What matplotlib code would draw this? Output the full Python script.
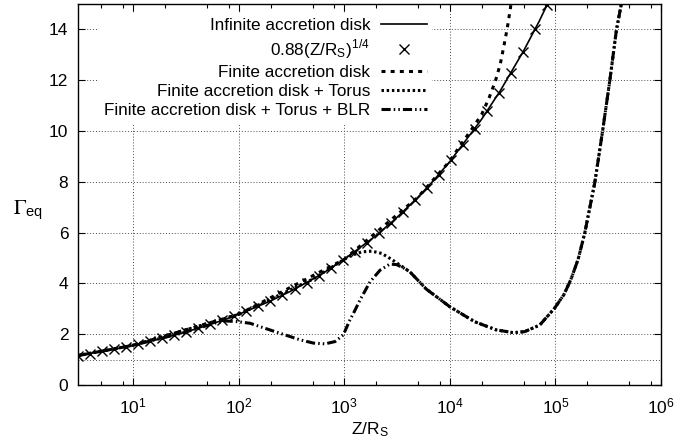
import matplotlib
matplotlib.use("Agg")
import matplotlib.pyplot as plt
from matplotlib.ticker import LogLocator, NullFormatter

plt.rcParams['font.family'] = ['Liberation Sans', 'DejaVu Sans']
plt.rcParams['mathtext.fontset'] = 'stix'

# infinite accretion disk (solid)
inf_z = [3, 5, 7, 10, 20, 30, 50, 70, 100, 200, 300, 500, 700, 1e3, 2e3, 3e3,
         5e3, 7e3, 1e4, 2e4, 3e4, 5e4, 7e4, 1e5]
inf_g = [1.158, 1.316, 1.431, 1.565, 1.861, 2.060, 2.340, 2.545, 2.783, 3.309,
         3.662, 4.161, 4.526, 4.949, 5.885, 6.513, 7.400, 8.049, 8.80, 10.465,
         11.581, 13.159, 14.313, 15.649]

# 0.88 (Z/Rs)^1/4 crosses
fit_z = [3, 3.9, 5.07, 6.59, 8.57, 11.14, 14.48, 18.82, 24.47, 31.81, 41.36,
         53.76, 69.89, 90.86, 118.1, 153.6, 199.6, 259.5, 337.4, 438.6, 570.2,
         741.2, 963.6, 1252.7, 1628.5, 2117, 2752, 3578, 4651, 6047, 7861,
         10219, 13285, 17270, 22452, 29187, 37944, 49327, 64125, 83363]
fit_g = [1.158, 1.237, 1.320, 1.410, 1.506, 1.607, 1.716, 1.833, 1.957, 2.090,
         2.231, 2.383, 2.544, 2.717, 2.901, 3.097, 3.307, 3.532, 3.771, 4.027,
         4.300, 4.591, 4.902, 5.235, 5.590, 5.969, 6.373, 6.805, 7.267, 7.760,
         8.286, 8.847, 9.447, 10.087, 10.771, 11.501, 12.281, 13.113, 14.002,
         14.951]

# finite accretion disk (dashed)
fin_z = [3, 10, 100, 1e3, 5e3, 1e4, 1.25e4, 1.6e4, 2.0e4, 2.35e4, 2.7e4,
         3.0e4, 3.25e4, 3.5e4, 3.75e4, 3.85e4]
fin_g = [1.158, 1.565, 2.783, 4.949, 7.40, 8.82, 9.42, 10.05, 10.65, 11.30,
         11.97, 12.63, 13.35, 14.06, 14.85, 15.2]

# shared tail of torus and torus+BLR curves
tail_z = [4.17e3, 6e3, 1e4, 1.72e4, 2.75e4, 4e4, 5.1e4, 7.1e4, 9.8e4, 1.2e5,
          1.4e5, 1.64e5, 1.89e5, 2.36e5, 2.79e5, 3.27e5, 3.78e5, 4.2e5, 4.4e5]
tail_g = [4.46, 3.77, 3.08, 2.49, 2.17, 2.06, 2.10, 2.36, 3.02, 3.55, 4.15,
          4.95, 5.96, 7.97, 9.97, 11.97, 13.97, 14.98, 15.5]

# finite disk + torus (dotted)
tor_z = [3, 10, 100, 500, 1e3, 1.13e3, 1.46e3, 1.82e3, 2.26e3, 2.82e3,
         3.37e3] + tail_z
tor_g = [1.158, 1.565, 2.783, 4.161, 4.949, 5.08, 5.24, 5.27, 5.18, 4.94,
         4.72] + tail_g

# finite disk + torus + BLR (dash-dot-dot)
blr_z = [3, 10, 30, 50, 60, 75, 95, 128, 221, 380, 510, 656, 817, 977, 1.13e3,
         1.22e3, 1.41e3, 1.75e3, 2.18e3, 2.7e3, 3.13e3, 3.6e3] + tail_z
blr_g = [1.158, 1.565, 2.060, 2.340, 2.44, 2.52, 2.50, 2.43, 2.10, 1.78, 1.65,
         1.62, 1.71, 1.97, 2.56, 2.82, 3.35, 4.06, 4.52, 4.76, 4.74, 4.62] + tail_g

labels = ['Infinite accretion disk',
          r'0.88(Z/R$_\mathregular{S}$)$^\mathregular{1/4}$',
          'Finite accretion disk',
          'Finite accretion disk + Torus',
          'Finite accretion disk + Torus + BLR']

fig = plt.figure(figsize=(6.96, 4.41), dpi=100)
ax = fig.add_axes([78 / 696, 56 / 441, 583 / 696, 381 / 441])

ax.plot(inf_z, inf_g, color='k', lw=1.2, label=labels[0], zorder=5)
ax.plot(fit_z, fit_g, ls='none', marker='x', ms=7.5, mew=1.0, color='k',
        label=labels[1], zorder=6)
ax.plot(fin_z, fin_g, color='k', lw=2.2, ls=(0, (1.3, 1.7)), label=labels[2],
        zorder=4)
ax.plot(tor_z, tor_g, color='k', lw=2.2, ls=(0, (0.8, 0.9)), label=labels[3],
        zorder=3)
ax.plot(blr_z, blr_g, color='k', lw=2.2, ls=(0, (3, 1, 0.5, 1, 0.5, 1)),
        label=labels[4], zorder=3)

ax.set_xscale('log')
ax.set_xlim(3, 1e6)
ax.set_ylim(0, 15)
ax.set_yticks(range(0, 15, 2))
ax.xaxis.set_major_locator(LogLocator(base=10, numticks=10))
ax.xaxis.set_minor_locator(LogLocator(base=10, subs=(2, 5, 8), numticks=20))
ax.xaxis.set_minor_formatter(NullFormatter())

ax.grid(True, which='major', color='0.3', lw=0.7, ls=(0, (1, 2)))
ax.axhline(1, color='0.3', lw=0.7, ls=(0, (1, 2)), zorder=1)

ax.tick_params(which='both', direction='in', top=True, right=True,
               labelsize=12.5, width=0.8)
ax.tick_params(which='major', length=5)
ax.tick_params(which='minor', length=3)
ax.tick_params(axis='y', pad=7)
ax.tick_params(axis='x', pad=8)
for s in ax.spines.values():
    s.set_linewidth(1.0)

ax.set_xlabel(r'Z/R$_\mathregular{S}$', fontsize=12.5, labelpad=3)
ax.set_ylabel(r'$\Gamma_{\mathregular{eq}}$', fontsize=15, rotation=0,
              ha='center', va='center')
ax.yaxis.set_label_coords(-0.086, 0.46)

leg = ax.legend(loc='upper right', bbox_to_anchor=(0.607, 0.976),
                markerfirst=False, numpoints=1, fontsize=12.3,
                frameon=True, fancybox=False, edgecolor='none',
                facecolor='white', framealpha=1, borderaxespad=0,
                handlelength=2.7, handletextpad=0.6, labelspacing=0.25,
                borderpad=0.3)
leg.set_zorder(10)

fig.savefig('out.png', dpi=100)
